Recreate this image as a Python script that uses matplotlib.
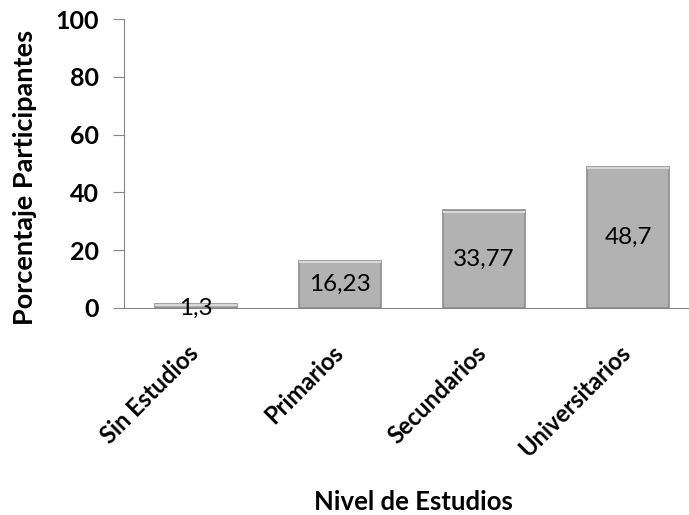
import matplotlib
matplotlib.use("Agg")
import matplotlib.pyplot as plt
from matplotlib.transforms import ScaledTranslation

categories = ["Sin Estudios", "Primarios", "Secundarios", "Universitarios"]
values = [1.3, 16.23, 33.77, 48.7]
value_labels = ["1,3", "16,23", "33,77", "48,7"]
yticks = [0, 20, 40, 60, 80, 100]

plt.rcParams['font.family'] = ['Lato', 'DejaVu Sans']

fig = plt.figure(figsize=(6.89, 5.15), dpi=100)
ax = fig.add_axes([0.18, 0.402, 0.836, 0.561])
x = list(range(len(categories)))
bars = ax.bar(x, values, width=0.57, color="#b2b2b2", edgecolor="#8c8c8c", linewidth=1.2)
for b in bars:
    xx, yy, w, h = b.get_x(), b.get_y(), b.get_width(), b.get_height()
    ax.plot([xx + 0.01, xx + w - 0.01], [yy + h - 0.4, yy + h - 0.4], color="#d8d8d8", lw=1.5, zorder=3)
for i, (v, lab) in enumerate(zip(values, value_labels)):
    ax.text(i, v / 2 if v > 5 else -0.3, lab, ha="center", va="center",
            fontsize=17.5, color="black", zorder=4)

ax.set_xlim(-0.5, 3.5)
ax.set_ylim(0, 100)
ax.set_yticks(yticks)
ax.set_yticklabels([str(t) for t in yticks], fontsize=18, fontweight="bold")
ax.set_xticks(x)
ax.set_xticklabels([])
label_tr = ax.get_xaxis_transform() + ScaledTranslation(-0.09, -0.33, fig.dpi_scale_trans)
for i, cat in enumerate(categories):
    ax.text(i, 0, cat, transform=label_tr, rotation=45, ha="right", va="top",
            rotation_mode="anchor", fontsize=17, fontweight="bold", clip_on=False)
ax.tick_params(axis="x", length=0)
ax.tick_params(axis="y", length=8, color="#868686", pad=10)
for s in ["top", "right"]:
    ax.spines[s].set_visible(False)
ax.spines["left"].set_color("#868686")
ax.spines["bottom"].set_color("#868686")
ax.set_ylabel("Porcentaje Participantes", fontsize=19.5, fontweight="bold")
ax.yaxis.set_label_coords(-0.151, 0.453)
ax.set_xlabel("Nivel de Estudios", fontsize=18.5, fontweight="bold")
ax.xaxis.set_label_coords(0.502, -0.63)
fig.savefig("out.png", dpi=100)
